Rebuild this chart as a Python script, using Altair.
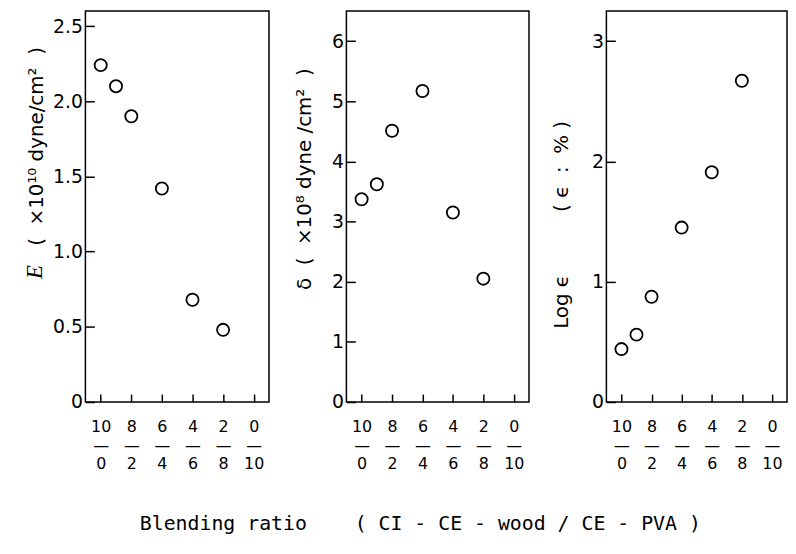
import altair as alt
import pandas as pd

# ---- data ----
ratio_wood = [10, 9, 8, 6, 4, 2]          # CI-CE-wood part of the blend (out of 10)
modulus_E = [2.24, 2.10, 1.90, 1.42, 0.68, 0.48]
strength_delta = [3.37, 3.62, 4.51, 5.17, 3.15, 2.05]
log_elong = [0.44, 0.56, 0.875, 1.45, 1.91, 2.67]

x_ticks = [10, 8, 6, 4, 2, 0]
y_ticks_E = [0, 0.5, 1.0, 1.5, 2.0, 2.5]
y_ticks_delta = [0, 1, 2, 3, 4, 5, 6]
y_ticks_log = [0, 1, 2, 3]

NB = "\u00a0"
title_E = "(" + NB * 2 + "×10¹⁰" + NB + "dyne/cm²" + NB * 2 + ")"
title_delta = ("δ" + NB * 2 + "(" + NB * 2 + "×10⁸" + NB + "dyne" + NB + "/cm²"
               + NB * 2 + ")")
title_log = ("Log" + NB + "ϵ" + NB * 10 + "(" + NB + "ϵ" + NB * 2 + ":" + NB * 2 + "%"
             + NB + ")")
x_title = ("Blending" + NB + "ratio" + NB * 4 + "(" + NB + "CI" + NB + "-" + NB + "CE" + NB
           + "-" + NB + "wood" + NB + "/" + NB + "CE" + NB + "-" + NB + "PVA" + NB + ")")

H = 394
FONT = "DejaVu Sans"
YTICK = 9   # inward tick length on y
XTICK = 8   # inward tick length on x

x_label_expr = "[format(datum.value, 'd'), '\u2014', format(10 - datum.value, 'd')]"


def panel(values, yticks, ydomain, ytitle, tx, ty, w, ylabel_expr, extras=()):
    df = pd.DataFrame({"r": ratio_wood, "v": values})
    xs = alt.Scale(domain=[11, -1], nice=False, zero=False)
    ys = alt.Scale(domain=ydomain, nice=False, zero=False)
    ykw = dict(values=yticks, title=ytitle, grid=False, domain=False,
               ticks=True, tickSize=YTICK, offset=-YTICK, tickColor="black", tickWidth=1.5,
               labelFont=FONT, labelFontSize=19, labelColor="black", labelPadding=3,
               titleFont=FONT, titleFontSize=20, titleFontWeight="normal",
               titleColor="black", titleX=tx - YTICK, titleY=ty,
               titleAngle=270, titleBaseline="middle")
    if ylabel_expr:
        ykw["labelExpr"] = ylabel_expr
    xkw = dict(values=x_ticks, title=None, grid=False, domain=False,
               ticks=True, tickSize=XTICK, offset=-XTICK, tickColor="black", tickWidth=1.5,
               labelFont=FONT, labelFontSize=16, labelColor="black", labelPadding=17,
               labelExpr=x_label_expr, labelLineHeight=18.7, labelBaseline="top")
    pts = alt.Chart(df).mark_point(
        shape="circle", filled=False, size=150, strokeWidth=1.8, color="black", opacity=1
    ).encode(
        x=alt.X("r:Q", scale=xs, axis=alt.Axis(**xkw)),
        y=alt.Y("v:Q", scale=ys, axis=alt.Axis(**ykw)),
    )
    if extras:
        return alt.layer(pts, *extras).properties(width=w, height=H)
    return pts.properties(width=w, height=H)


e_letter = alt.Chart(pd.DataFrame({"s": ["E"]})).mark_text(
    font="Liberation Serif", fontStyle="italic", fontSize=23, angle=270,
    align="center", baseline="middle", color="black"
).encode(text="s:N", x=alt.value(-51), y=alt.value(263))

p1 = panel(modulus_E, y_ticks_E, [0, 2.6], title_E, -49, 136, 185,
           "datum.value == 0 ? '0' : format(datum.value, '.1f')", extras=(e_letter,))
p2 = panel(strength_delta, y_ticks_delta, [0, 6.5], title_delta, -42, 169, 184, None)
p3 = panel(log_elong, y_ticks_log, [0, 3.25], title_log, -45, 215, 182, None)

chart = alt.hconcat(p1, p2, p3, spacing=78, bounds="flush").properties(
    title=alt.TitleParams(x_title, orient="bottom", anchor="middle", font="DejaVu Sans Mono",
                          fontSize=20, fontWeight="normal", color="black", offset=42, dx=15),
    padding={"left": 15, "top": 0, "right": 0, "bottom": 0},
).configure_view(stroke="black", strokeWidth=1.5)

chart.save("out.html", embed_options={"renderer": "svg", "actions": False})
